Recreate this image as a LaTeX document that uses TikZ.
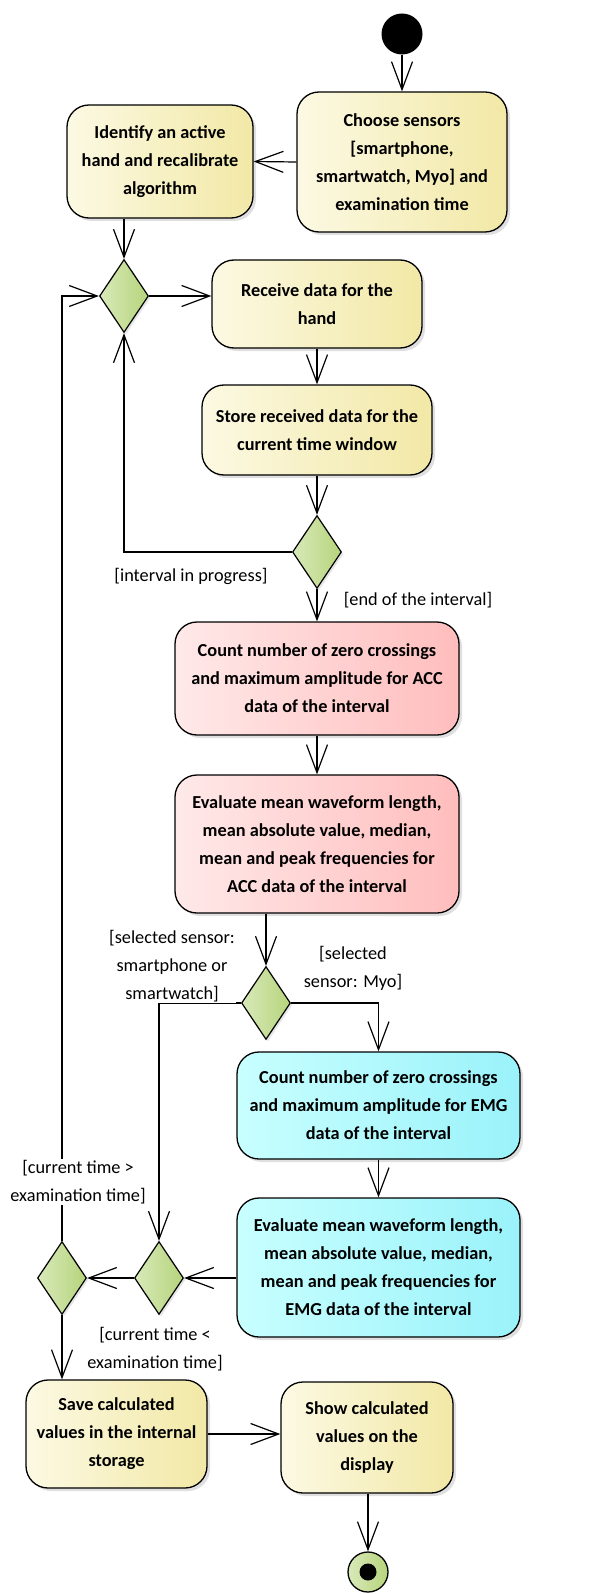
\documentclass[tikz,border=0pt]{standalone}
\usepackage{fontspec}
\setmainfont{Carlito}
\usetikzlibrary{arrows.meta,shapes.geometric,shadows}
\definecolor{yelL}{HTML}{FCF9E3}
\definecolor{yelR}{HTML}{F2E8A6}
\definecolor{pinkL}{HTML}{FFE9E9}
\definecolor{pinkR}{HTML}{FFBDBD}
\definecolor{cyanL}{HTML}{C8FFFF}
\definecolor{cyanR}{HTML}{9AF2FA}
\definecolor{grnL}{HTML}{D8E9B9}
\definecolor{grnR}{HTML}{B6D47C}
\begin{document}
\begin{tikzpicture}[x=1pt,y=-1pt,
  act/.style={draw=black, line width=1.3pt, rounded corners=22pt, align=center,
    font=\fontsize{18.3}{28}\selectfont\bfseries, inner sep=0pt,
    drop shadow={shadow xshift=3pt,shadow yshift=-3pt,opacity=0.25}},
  yel/.style={act, left color=yelL, right color=yelR},
  pnk/.style={act, left color=pinkL, right color=pinkR},
  cyn/.style={act, left color=cyanL, right color=cyanR},
  dec/.style={diamond, draw=black, line width=1.2pt, left color=grnL, right color=grnR,
    minimum width=49pt, minimum height=73pt, inner sep=0pt,
    drop shadow={shadow xshift=2pt,shadow yshift=-2pt,opacity=0.2}},
  arr/.style={line width=1.2pt, -{Straight Barb[length=28pt,width=21pt,line width=1.2pt]}},
  lab/.style={font=\fontsize{18.3}{28}\selectfont, align=center, inner sep=1pt}
]
\useasboundingbox (0,0) rectangle (590,1594);

\node[circle, fill=black, minimum size=41pt, inner sep=0pt] (start) at (402,34) {};
\node[yel, minimum width=210pt, minimum height=140pt] (choose) at (402,162)
  {Choose sensors\\{[smartphone,}\\smartwatch, Myo] and\\examination time};
\node[yel, minimum width=186pt, minimum height=113pt] (ident) at (160,161.5)
  {Identify an active\\hand and recalibrate\\algorithm};
\node[dec] (d1) at (124,296) {};
\node[yel, minimum width=210pt, minimum height=88pt] (recv) at (317,304)
  {Receive data for the\\hand};
\node[yel, minimum width=230pt, minimum height=90pt] (store) at (317,430)
  {Store received data for the\\current time window};
\node[dec] (d2) at (317,552) {};
\node[pnk, minimum width=284pt, minimum height=113pt] (acc1) at (317,678.5)
  {Count number of zero crossings\\and maximum amplitude for ACC\\data of the interval};
\node[pnk, minimum width=284pt, minimum height=138pt] (acc2) at (317,844)
  {Evaluate mean waveform length,\\mean absolute value, median,\\mean and peak frequencies for\\ACC data of the interval};
\node[dec] (d3) at (266,1003) {};
\node[cyn, minimum width=283pt, minimum height=107pt] (emg1) at (378.5,1105.5)
  {Count number of zero crossings\\and maximum amplitude for EMG\\data of the interval};
\node[cyn, minimum width=283pt, minimum height=139pt] (emg2) at (378.5,1267.5)
  {Evaluate mean waveform length,\\mean absolute value, median,\\mean and peak frequencies for\\EMG data of the interval};
\node[dec] (d4) at (159,1278) {};
\node[dec] (d5) at (62,1278) {};
\node[yel, minimum width=181pt, minimum height=108pt] (save) at (116.5,1434)
  {Save calculated\\values in the internal\\storage};
\node[yel, minimum width=172pt, minimum height=111pt] (show) at (367,1437.5)
  {Show calculated\\values on the\\display};
\node[circle, draw=black, line width=1.3pt, left color=grnL, right color=grnR,
  minimum size=40pt, inner sep=0pt] (fin) at (368,1572) {};
\node[circle, fill=black, minimum size=17pt, inner sep=0pt] (findot) at (fin) {};

\draw[arr] (start.south) -- (choose.north);
\draw[arr] (choose.west) -- (ident.east);
\draw[arr] (ident.south -| d1.north) -- (d1.north);
\draw[arr] (d1.east) -- (d1.east -| recv.west);
\draw[arr] (recv) -- (store);
\draw[arr] (store) -- (d2);
\draw[arr] (d2.west) -| (d1.south);
\draw[arr] (d2) -- (acc1);
\draw[arr] (acc1) -- (acc2);
\draw[arr] (acc2.south -| d3.north) -- (d3.north);
\draw[arr] (d3.east) -| (emg1.north);
\draw[arr] (d3.west) -| (d4.north);
\draw[arr] (emg1) -- (emg2);
\draw[arr] (d4.east -| emg2.west) -- (d4.east);
\draw[arr] (d4.west) -- (d5.east);
\draw[arr] (d5.north) |- (d1.west);
\draw[arr] (d5.south) -- (d5.south |- save.north);
\draw[arr] (save.east) -- (save.east -| show.west);
\draw[arr] (show.south -| fin.north) -- (fin.north);

\node[lab] (l1) at (191,576) {[interval in progress]};
\node[lab] (l2) at (418,600) {[end of the interval]};
\node[lab, fill=white] (l3) at (172,966) {[selected sensor:\\smartphone or\\smartwatch]};
\node[lab] (l4) at (353,968) {[selected\\sensor: Myo]};
\node[lab, fill=white] (l5) at (78,1182) {[current time >\\examination time]};
\node[lab] (l6) at (155,1349) {[current time <\\examination time]};
\end{tikzpicture}
\end{document}
